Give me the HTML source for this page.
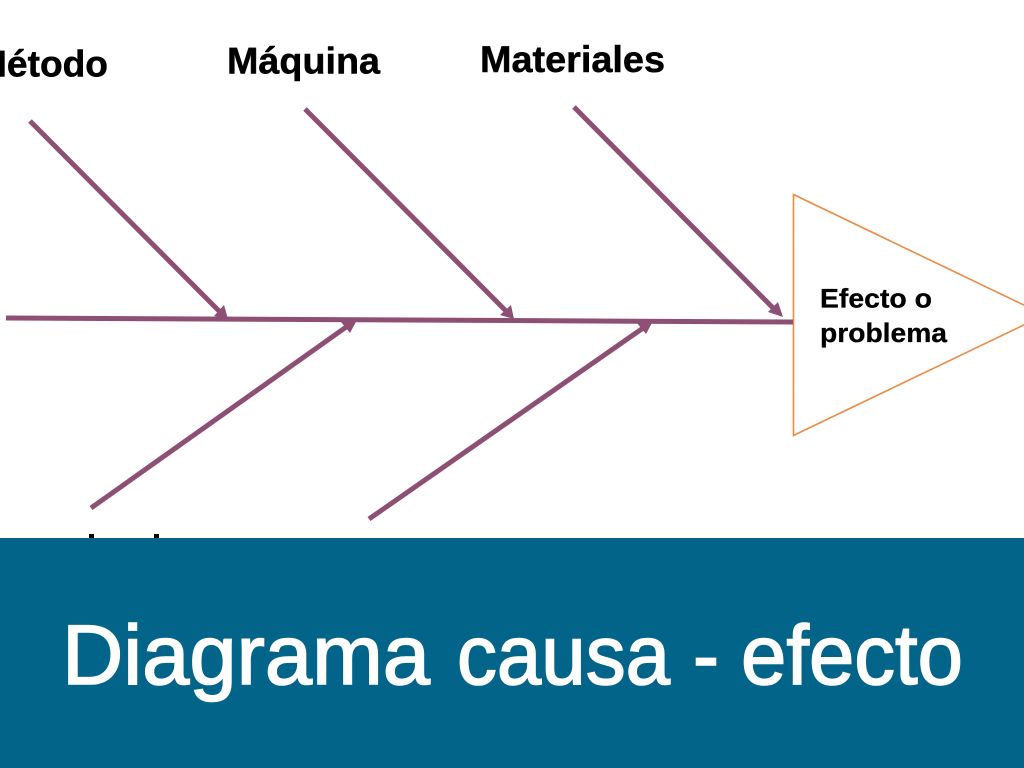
<!DOCTYPE html>
<html lang="es">
<head>
<meta charset="utf-8">
<title>Diagrama causa - efecto</title>
<style>
html,body{margin:0;padding:0;background:#fff;width:1024px;height:768px;overflow:hidden}
svg{display:block}
.l{font-family:"Liberation Sans",sans-serif;font-weight:700;fill:#000;stroke:#000;stroke-width:.5}
.t{font-family:"Liberation Sans",sans-serif;font-size:84px;fill:#fff;stroke:#fff;stroke-width:1.6}
</style>
</head>
<body>
<svg width="1024" height="768" viewBox="0 0 1024 768" xmlns="http://www.w3.org/2000/svg">
<rect width="1024" height="768" fill="#fff"/>
<text class="l" x="-24" y="76.5" font-size="37" textLength="132" lengthAdjust="spacingAndGlyphs">Método</text>
<text class="l" x="227" y="73.5" font-size="37" textLength="153" lengthAdjust="spacingAndGlyphs">Máquina</text>
<text class="l" x="480" y="72" font-size="37" textLength="185" lengthAdjust="spacingAndGlyphs">Materiales</text>
<polygon points="793.5,194.5 1030,308 1030,322 793.5,435.5" fill="none" stroke="#ed8a45" stroke-width="1.6"/>
<g stroke="#8e4f75" stroke-width="5" fill="none">
<line x1="6" y1="318" x2="793" y2="322"/>
<line x1="30" y1="121" x2="222" y2="314"/>
<line x1="305" y1="109" x2="508" y2="313"/>
<line x1="574" y1="107" x2="776" y2="311"/>
<line x1="91" y1="508" x2="349" y2="325"/>
<line x1="369" y1="519" x2="646" y2="326"/>
</g>
<g fill="#8e4f75">
<polygon points="228,319 214,316 224,305"/>
<polygon points="514,319 500,315 511,305"/>
<polygon points="783,317 768,312 778,302"/>
<polygon points="357,320 350,333 341,322"/>
<polygon points="653,321 646,334 637,323"/>
</g>
<text class="l" style="stroke-width:.3" x="820" y="307.5" font-size="27" textLength="112" lengthAdjust="spacingAndGlyphs">Efecto o</text>
<text class="l" style="stroke-width:.3" x="820" y="342" font-size="27" textLength="127" lengthAdjust="spacingAndGlyphs">problema</text>
<rect x="89" y="534" width="5" height="5" fill="#000"/>
<rect x="154" y="534" width="5" height="5" fill="#000"/>
<rect x="0" y="538" width="1024" height="230" fill="#03648a"/>
<text class="t" x="62" y="684" textLength="368" lengthAdjust="spacingAndGlyphs">Diagrama</text>
<text class="t" x="457" y="684" textLength="213" lengthAdjust="spacingAndGlyphs">causa</text>
<text class="t" x="693" y="684" textLength="26" lengthAdjust="spacingAndGlyphs">-</text>
<text class="t" x="741" y="684" textLength="222" lengthAdjust="spacingAndGlyphs">efecto</text>
</svg>
</body>
</html>
